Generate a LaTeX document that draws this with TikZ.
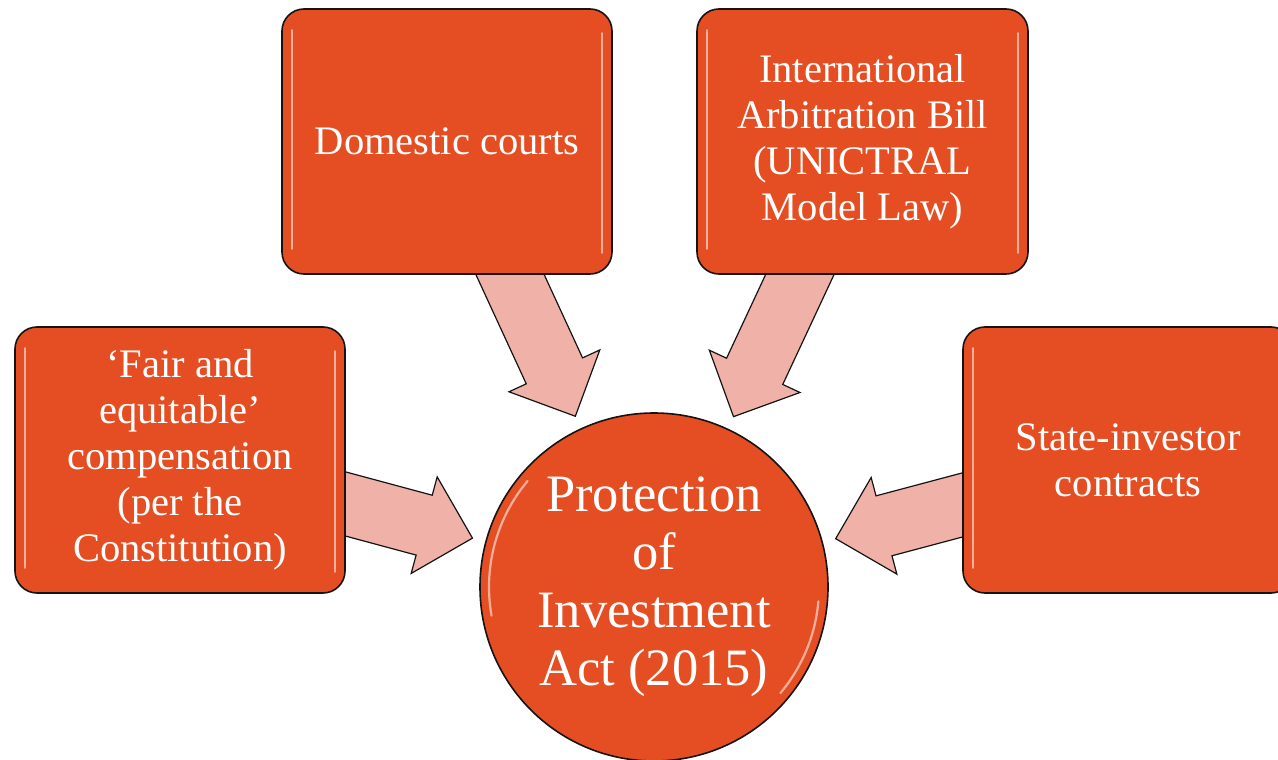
\documentclass[tikz,border=0pt]{standalone}
\usepackage{fontspec}
\setmainfont{Liberation Serif}
\usetikzlibrary{calc}
\pgfdeclarelayer{bg}
\pgfsetlayers{bg,main}
\definecolor{boxfill}{RGB}{229,78,35}
\definecolor{arrowfill}{RGB}{240,178,168}
\definecolor{edgecol}{RGB}{20,20,20}
\tikzset{
  box/.style={draw=edgecol, line width=1.6pt, fill=boxfill, rounded corners=22pt,
    minimum width=330pt, minimum height=265pt, inner sep=0pt, text=white,
    align=center, font=\fontsize{40.5}{46}\selectfont},
  hub/.style={circle, draw=edgecol, line width=1.6pt, fill=boxfill, minimum size=348pt,
    inner sep=0pt, text=white, align=center, font=\fontsize{52.5}{58}\selectfont},
  blockarrowstyle/.style={draw=edgecol, line width=1.2pt, fill=arrowfill, line join=miter},
  gloss/.style={white, opacity=.55, line width=2.2pt, line cap=round}
}
\newcommand\myblockarrow[2]{%
  \coordinate (hb) at ($(#2)!50pt!(#1)$);
  \draw[blockarrowstyle] ($(#1)!31pt!90:(#2)$) -- ($(hb)!31pt!90:(#2)$)
    -- ($(hb)!50pt!90:(#2)$) -- (#2) -- ($(hb)!50pt!-90:(#2)$)
    -- ($(hb)!31pt!-90:(#2)$) -- ($(#1)!31pt!-90:(#2)$) -- cycle;
}
\begin{document}
\begin{tikzpicture}[x=1pt, y={(0pt,-1pt)}]
\useasboundingbox (0,0) rectangle (1278,760);

\node[box] (dom) at (447,141.5) {Domestic courts};
\node[box, minimum width=331pt] (intl) at (862.5,141.5)
  {International\\Arbitration Bill\\(UNICTRAL\\Model Law)};
\node[box, minimum height=266pt] (fair) at (180,460)
  {‘Fair and\\equitable’\\compensation\\(per the\\Constitution)};
\node[box, minimum height=266pt] (state) at (1128,460) {State-investor\\contracts};
\node[hub] (act) at (654,587) {Protection\\of\\Investment\\Act (2015)};

\foreach \n in {dom,intl,fair,state}{
  \draw[gloss] ($(\n.north west)+(11,22)$) -- ($(\n.south west)+(11,-26)$);
  \draw[gloss] ($(\n.north east)+(-11,25)$) -- ($(\n.south east)+(-11,-22)$);
}
\begin{scope}[shift={(act.center)}]
  \draw[gloss] plot[domain=140:190, samples=30] (\x:165pt);
  \draw[gloss] plot[domain=-5:-40, samples=30] (\x:165pt);
\end{scope}

\begin{pgfonlayer}{bg}
  \coordinate (t1) at ($(fair.east)+(-15,40)$);
  \coordinate (t2) at ($(dom.south)+(53,-22)$);
  \coordinate (t3) at ($(intl.south)+(-52.5,-22)$);
  \coordinate (t4) at ($(state.west)+(15,41)$);
  \coordinate (p1) at ($(act.center)!188pt!(t1)$);
  \coordinate (p2) at ($(act.center)!188pt!(t2)$);
  \coordinate (p3) at ($(act.center)!188pt!(t3)$);
  \coordinate (p4) at ($(act.center)!188pt!(t4)$);
  \myblockarrow{t1}{p1}
  \myblockarrow{t2}{p2}
  \myblockarrow{t3}{p3}
  \myblockarrow{t4}{p4}
\end{pgfonlayer}
\end{tikzpicture}
\end{document}
